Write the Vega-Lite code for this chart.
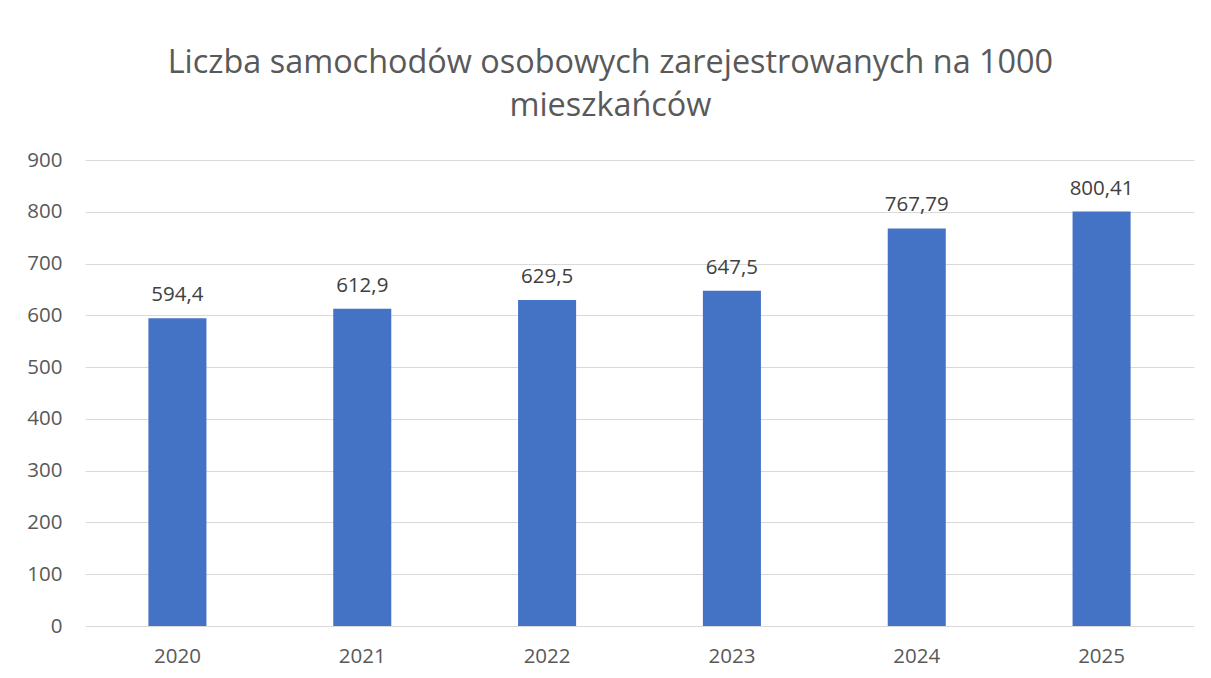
{
  "$schema": "https://vega.github.io/schema/vega-lite/v6.json",
  "width": 1109,
  "height": 466,
  "autosize": "none",
  "padding": {"left": 85, "top": 160, "right": 17, "bottom": 52},
  "background": "white",
  "title": {
    "text": ["Liczba samochodów osobowych zarejestrowanych na 1000", "mieszkańców"],
    "anchor": "middle",
    "frame": "bounds",
    "font": "Open Sans",
    "fontSize": 32.4,
    "fontWeight": "normal",
    "color": "#595959",
    "lineHeight": 43,
    "offset": 28
  },
  "config": {
    "locale": {"number": {"decimal": ",", "thousands": " ", "grouping": [3], "currency": ["", " zł"]}},
    "view": {"stroke": null},
    "font": "Open Sans"
  },
  "data": {
    "values": [
      {"rok": "2020", "wartosc": 594.4},
      {"rok": "2021", "wartosc": 612.9},
      {"rok": "2022", "wartosc": 629.5},
      {"rok": "2023", "wartosc": 647.5},
      {"rok": "2024", "wartosc": 767.79},
      {"rok": "2025", "wartosc": 800.41}
    ]
  },
  "encoding": {
    "x": {
      "field": "rok",
      "type": "nominal",
      "scale": {"paddingInner": 0.686, "paddingOuter": 0.343},
      "axis": {
        "title": null,
        "labelAngle": 0,
        "labelFont": "Open Sans",
        "labelFontSize": 20.5,
        "labelColor": "#595959",
        "labelPadding": 20,
        "ticks": false,
        "domain": false,
        "grid": false
      }
    },
    "y": {
      "field": "wartosc",
      "type": "quantitative",
      "scale": {"domain": [0, 900], "nice": false},
      "axis": {
        "title": null,
        "values": [0, 100, 200, 300, 400, 500, 600, 700, 800, 900],
        "labelFont": "Open Sans",
        "labelFontSize": 20.5,
        "labelColor": "#595959",
        "labelPadding": 23,
        "ticks": false,
        "domain": false,
        "grid": true,
        "gridColor": "#d9d9d9",
        "gridWidth": 1
      }
    }
  },
  "layer": [
    {"mark": {"type": "bar", "color": "#4472C4"}},
    {
      "mark": {"type": "text", "baseline": "bottom", "dy": -13, "font": "Open Sans", "fontSize": 20.5, "color": "#404040"},
      "encoding": {"text": {"field": "wartosc", "type": "quantitative", "format": ".5~r"}}
    }
  ]
}
